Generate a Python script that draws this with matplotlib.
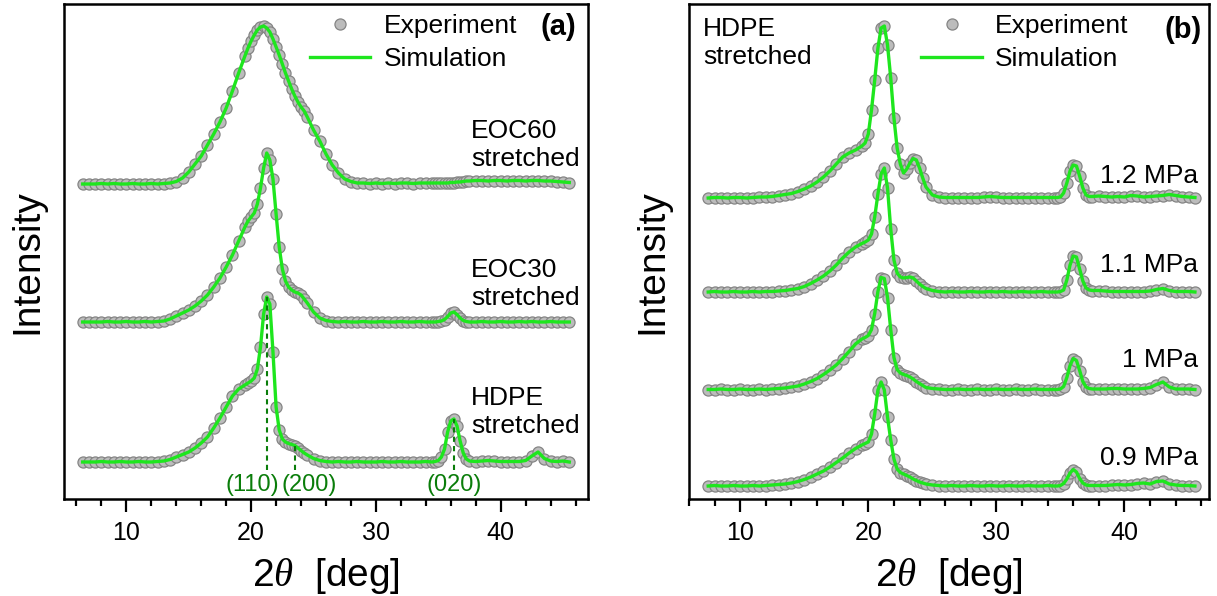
import matplotlib
matplotlib.use('Agg')
import matplotlib.pyplot as plt
from matplotlib.lines import Line2D
from matplotlib.ticker import MultipleLocator

plt.rcParams['font.family'] = ['Liberation Sans', 'DejaVu Sans']
plt.rcParams['mathtext.fontset'] = 'custom'
plt.rcParams['mathtext.rm'] = 'Liberation Sans'
plt.rcParams['mathtext.it'] = 'Liberation Serif:italic'

# 2theta grid (deg)
theta_b = [7.5, 8.0, 8.5, 9.0, 9.5, 10.0, 10.5, 11.0, 11.5, 12.0, 12.5, 13.0, 13.5,
           14.0, 14.5, 15.0, 15.5, 16.0, 16.5, 17.0, 17.5, 18.0, 18.5, 19.0, 19.5,
           19.75, 20.0, 20.25, 20.5, 20.75, 21.0, 21.25, 21.5, 21.75, 22.0, 22.25,
           22.5, 22.75, 23.0, 23.25, 23.5, 23.75, 24.0, 24.25, 24.5,
           25.0, 25.5, 26.0, 26.5, 27.0, 27.5, 28.0, 28.5, 29.0, 29.5, 30.0, 30.5,
           31.0, 31.5, 32.0, 32.5, 33.0, 33.5, 34.0, 34.5,
           34.75, 35.0, 35.25, 35.5, 35.75, 36.0, 36.25, 36.5, 36.75, 37.0, 37.25,
           37.5, 38.0, 38.5, 39.0, 39.5, 40.0, 40.5, 41.0, 41.5, 42.0, 42.5, 43.0,
           43.5, 44.0, 44.5, 45.0, 45.5]
theta_a = [6.5, 7.0] + theta_b

# panel (a) intensities above each baseline (a.u.)
eoc60 = [0, 0,
         0, 0.5, 0, 0.5, 0, 0, 0.5, 0, 0, 0.5, 0, 0.5, 1, 2.5, 6, 12, 20, 28, 39, 50, 62, 76, 93, 111, 128,
         136, 143, 149, 154, 157, 158, 156, 152, 145, 137, 129, 120, 111, 103, 95, 88, 82, 77, 73, 67,
         54, 43, 30, 19, 11, 5, 2.5, 1, 1, 0.5, 1, 0.5, 1, 0.5, 1, 1, 0.5, 1, 1, 1,
         1, 1, 1, 1, 1, 1.5, 1.5, 2, 2, 2.5, 3,
         3, 3.5, 3.5, 3, 3.5, 3.5, 3, 3.5, 3.5, 3, 3.5, 3.5, 3, 3, 2.5, 2, 1.5]
eoc30 = [0, 0,
         0, 0, 0.5, 0, 0, 0.5, 0, 0, 0.5, 0, 0.5, 1, 3, 6, 9, 12, 16, 21, 27, 35, 44, 55, 67, 81, 95,
         101, 105, 109, 118, 134, 154, 169, 162, 143, 108, 75, 53, 41, 35, 32, 30, 29, 27, 23, 19,
         10, 4, 1.5, 0.5, 0, 0.5, 0, 0, 0.5, 0, 0, 0.5, 0, 0, 0.5, 0, 0, 0.5, 0, 0,
         0, 0.5, 1, 2.5, 5.5, 9, 10, 7.5, 4, 1.5, 0.5,
         0, 0, 0.5, 0, 0, 0.5, 0, 0, 0.5, 0, 0.5, 0, 0, 0.5, 0, 0, 0]
hdpe_a = [0, 0,
          0, 0.5, 0, 0, 0.5, 0, 0, 0.5, 0, 0, 0.5, 1, 2.5, 5, 7.5, 10, 14, 19, 25, 34, 44, 55, 66, 73, 77,
          79, 81, 84, 93, 115, 148, 165, 158, 110, 55, 32, 23, 20, 18.5, 17.5, 16.5, 14, 11.5, 9, 7,
          3.5, 1.5, 0.5, 0, 0.5, 0, 0, 0.5, 0, 0, 0, 0.5, 0, 0, 0.5, 0, 0, 0, 0.5, 0,
          0.5, 1.5, 5, 13, 30, 41, 43, 36, 21, 9, 3,
          1, 0.5, 1, 1.5, 1, 0.5, 0.5, 0.5, 0.5, 1.5, 6, 10, 3.5, 1, 0.5, 1, 0]

# panel (b) intensities above each baseline (a.u.)
mpa12 = [0, 0.5, 0.5, 0, 0.5, 0.5, 0, 0.5, 1, 1, 1.5, 2.5, 3.5, 4.5, 6.5, 9, 12, 16, 21, 27, 34, 41, 45, 48, 52,
         55, 64, 88, 118, 150, 170, 172, 153, 120, 80, 50, 34, 25, 29, 35, 39.5, 38, 30, 20, 11,
         3, 1, 0.5, 0.5, 0.5, 0.5, 0.5, 0.5, 1, 1.5, 1, 0.5, 0.5, 0.5, 0.5, 0.5, 0.5, 0.5, 0.5, 0.5,
         0.5, 1, 5, 15, 27, 33, 32, 22, 10, 3, 1.5,
         1.5, 2, 1.5, 1, 1.5, 1, 2.5, 2, 1, 1.5, 2, 2.5, 3.5, 2.5, 1.5, 1, 0.5]
mpa11 = [0, 0.5, 0, 0, 0.5, 0, 0, 0.5, 0, 0.5, 0.5, 1, 1.5, 2.5, 3.5, 5.5, 8.5, 12, 16, 21, 27, 34, 40, 45, 48.5,
         50, 52, 58, 75, 98, 118, 124, 104, 63, 32, 19, 15, 14, 14.5, 15, 14, 11, 8, 5.5, 3.5,
         1.5, 0.5, 0, 0.5, 0, 0, 0.5, 0, 0, 0.5, 0, 0.5, 0, 0, 0.5, 0, 0, 0.5, 0, 0,
         0, 0.5, 2, 12, 27, 36, 35, 23, 11, 4, 2,
         1.5, 1.5, 1, 0.5, 0.5, 0.5, 0.5, 0.5, 0.5, 1, 2.5, 3.5, 1.5, 0.5, 0.5, 0.5, 0]
mpa10 = [0, 0, 0.5, 0, 0, 0.5, 0, 0, 0.5, 0, 0.5, 1, 1.5, 2.5, 3.5, 5.5, 8, 11, 15, 19.5, 24.5, 31, 38, 45.5, 50.5,
         52, 54, 60, 76, 98, 112, 111, 92, 60, 32, 20, 16.5, 15, 14, 12.5, 10.5, 8, 6, 4, 2,
         1, 0.5, 0, 0, 0.5, 0, 0, 0.5, 0, 0, 0.5, 0, 0, 0.5, 0, 0, 0.5, 0, 0, 0,
         0, 0.5, 3, 12, 24, 31, 29, 19, 8, 2.5, 1,
         0.5, 0.5, 0.5, 1, 1, 0.5, 0.5, 0.5, 1, 2, 5, 7.5, 2.5, 0.5, 0.5, 0.5, 0]
mpa09 = [0, 0.5, 0, 0, 0.5, 0, 0, 0.5, 0, 0.5, 1, 1.5, 2, 3, 4.5, 6.5, 9, 12, 15, 19, 23.5, 28, 33, 37.5, 41,
         42.5, 44, 52, 72, 96, 104, 96, 69, 46, 27, 17, 13.5, 12, 10.5, 9, 7, 5.5, 4, 3, 2,
         1, 0.5, 0, 0.5, 0, 0, 0.5, 0, 0, 0.5, 0, 0, 0.5, 0, 0, 0.5, 0, 0, 0.5, 0,
         0, 0.5, 2.5, 7, 13, 16.5, 14, 7.5, 3, 1, 0.5,
         0.5, 0.5, 0.5, 1, 1.5, 1, 1.5, 2.5, 3, 2, 4.5, 5, 2, 1, 0.5, 0.5, 0]

# vertical stacking offsets
curves_a = [hdpe_a, eoc30, eoc60]
offsets_a = [37, 177, 315]
names_a = ['HDPE\nstretched', 'EOC30\nstretched', 'EOC60\nstretched']

curves_b = [mpa09, mpa10, mpa11, mpa12]
offsets_b = [13, 109.5, 207, 301]
names_b = ['0.9 MPa', '1 MPa', '1.1 MPa', '1.2 MPa']

peak_names = ['(110)', '(200)', '(020)']
peak_pos = [21.25, 23.5, 36.25]

green = '#1ee61e'
face = '#bcbcbc'
edge = '#858585'
msize = 8.0


def draw(ax, theta, curves, offsets):
    for y, off in zip(curves, offsets):
        ys = [v + off for v in y]
        ax.plot(theta, ys, ls='none', marker='o', ms=msize, mfc=face, mec=edge, mew=0.9, zorder=2)
        ax.plot(theta, ys, color=green, lw=2.4, zorder=3)


def style(ax, xlim):
    ax.set_xlim(*xlim)
    ax.set_ylim(0, 495)
    ax.set_yticks([])
    ax.xaxis.set_major_locator(MultipleLocator(10))
    ax.xaxis.set_minor_locator(MultipleLocator(2))
    ax.tick_params(axis='x', which='major', direction='out', length=9.5, width=1.6, labelsize=18, pad=6)
    ax.tick_params(axis='x', which='minor', direction='out', length=5, width=1.6)
    for s in ax.spines.values():
        s.set_linewidth(1.8)
    ax.set_xlabel(r'2$\mathit{\theta}$  [deg]', fontsize=28)
    ax.xaxis.set_label_coords(0.5, -0.155)
    ax.xaxis.label.set_verticalalignment('center')
    ax.set_ylabel('Intensity', fontsize=28)
    ax.yaxis.label.set_verticalalignment('center')
    handles = [Line2D([], [], ls='none', marker='o', ms=msize, mfc=face, mec=edge, mew=0.9),
               Line2D([], [], color=green, lw=2.4)]
    return handles


fig = plt.figure(figsize=(12.17, 5.96), dpi=100)
ax1 = fig.add_axes([64 / 1217, 97 / 596, 524 / 1217, 495 / 596])
ax2 = fig.add_axes([689 / 1217, 97 / 596, 520 / 1217, 495 / 596])

# panel (a)
draw(ax1, theta_a, curves_a, offsets_a)
h = style(ax1, (5, 47))
ax1.yaxis.set_label_coords(-0.069, 0.48)
ax1.legend(h, ['Experiment', 'Simulation'], loc='upper left', bbox_to_anchor=(0.469, 0.98),
           frameon=False, fontsize=19, handlelength=2.3, handletextpad=0.5,
           labelspacing=0.35, borderpad=0, borderaxespad=0)
ax1.text(0.943, 0.953, '(a)', transform=ax1.transAxes, fontsize=21, fontweight='bold',
         ha='center', va='center')
for name, yc in zip(names_a, [0.176, 0.434, 0.715]):
    ax1.text(0.777, yc, name, transform=ax1.transAxes, fontsize=19, ha='left', va='center',
             linespacing=1.2)

# peak markers on HDPE pattern
for name, pos, shift in zip(peak_names, peak_pos, [-1.15, 1.15, 0]):
    top = hdpe_a[theta_a.index(pos)] + offsets_a[0]
    ax1.plot([pos, pos], [29, top], ls=(0, (2.5, 2)), color='#0a7d0a', lw=1.5, zorder=4)
    ax1.text(pos + shift, 14, name, color='#0a7d0a', fontsize=17, ha='center', va='center')

# panel (b)
draw(ax2, theta_b, curves_b, offsets_b)
h = style(ax2, (6, 46.6))
ax2.yaxis.set_label_coords(-0.071, 0.48)
ax2.legend(h, ['Experiment', 'Simulation'], loc='upper left', bbox_to_anchor=(0.447, 0.98),
           frameon=False, fontsize=19, handlelength=2.3, handletextpad=0.5,
           labelspacing=0.35, borderpad=0, borderaxespad=0)
ax2.text(0.95, 0.947, '(b)', transform=ax2.transAxes, fontsize=21, fontweight='bold',
         ha='center', va='center')
ax2.text(0.027, 0.921, 'HDPE\nstretched', transform=ax2.transAxes, fontsize=19,
         ha='left', va='center', linespacing=1.2)
for name, yc in zip(names_b, [0.083, 0.280, 0.472, 0.6525]):
    ax2.text(0.979, yc, name, transform=ax2.transAxes, fontsize=19, ha='right', va='center')

fig.savefig('out.png', dpi=100)
